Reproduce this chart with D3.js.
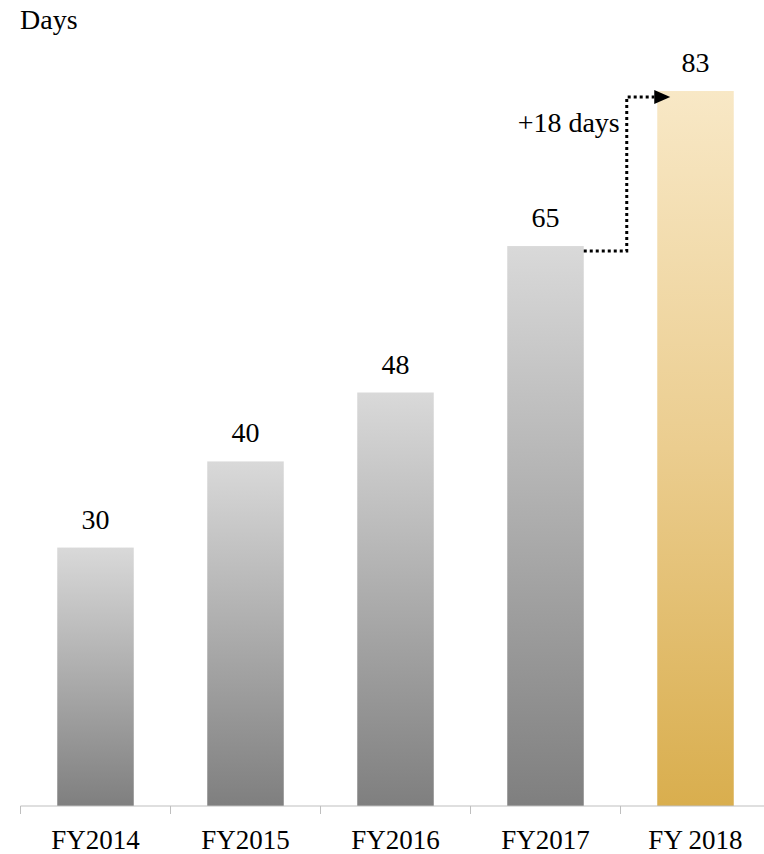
<!DOCTYPE html>
<html lang="en">
<head>
<meta charset="UTF-8">
<title>Days</title>
<script src="https://cdn.jsdelivr.net/npm/d3@7"></script>
<style>
  body { margin: 0; background: #fff; }
  text { font-family: "Liberation Serif", "DejaVu Serif", serif; fill: #000; }
</style>
</head>
<body>
<div id="chart"></div>
<script>
// data
var years = ["FY2014", "FY2015", "FY2016", "FY2017", "FY 2018"];
var days = [30, 40, 48, 65, 83];
var unitLabel = "Days";
var diffLabel = "+18 days";

var width = 764, height = 854;
var svg = d3.select("#chart").append("svg")
    .attr("width", width)
    .attr("height", height);

var baseY = 806;
var x = d3.scaleBand().domain(years).range([20.5, 770.5]).paddingInner(0.49).paddingOuter(0.245);
var y = d3.scaleLinear().domain([0, 83]).range([baseY, 91]);

// gradients
var defs = svg.append("defs");
var g1 = defs.append("linearGradient").attr("id", "grey").attr("x1", 0).attr("x2", 0).attr("y1", 0).attr("y2", 1);
g1.append("stop").attr("offset", "0%").attr("stop-color", "#d9d9d9");
g1.append("stop").attr("offset", "100%").attr("stop-color", "#7f7f7f");
var g2 = defs.append("linearGradient").attr("id", "gold").attr("x1", 0).attr("x2", 0).attr("y1", 0).attr("y2", 1);
g2.append("stop").attr("offset", "0%").attr("stop-color", "#f8e8c6");
g2.append("stop").attr("offset", "50%").attr("stop-color", "#ebcd8f");
g2.append("stop").attr("offset", "100%").attr("stop-color", "#d9ae4e");

// bars
svg.selectAll("rect.bar")
    .data(days)
    .enter().append("rect")
    .attr("class", "bar")
    .attr("x", function (d, i) { return x(years[i]); })
    .attr("width", x.bandwidth())
    .attr("y", function (d) { return y(d); })
    .attr("height", function (d) { return baseY - y(d); })
    .attr("fill", function (d, i) { return i == days.length - 1 ? "url(#gold)" : "url(#grey)"; });

// value labels
svg.selectAll("text.val")
    .data(days)
    .enter().append("text")
    .attr("class", "val")
    .attr("x", function (d, i) { return x(years[i]) + x.bandwidth() / 2; })
    .attr("y", function (d) { return y(d) - 19; })
    .attr("text-anchor", "middle")
    .style("font-size", "28px")
    .text(function (d) { return d; });

// x axis
var axis = svg.append("g").attr("transform", "translate(0," + baseY + ")");
axis.append("line").attr("x1", 20.5).attr("x2", width).attr("stroke", "#bfbfbf").attr("stroke-width", 1);
var step = x.step();
var tickXs = d3.range(years.length + 1).map(function (i) { return 20.5 + i * step; });
axis.selectAll("line.tick")
    .data(tickXs)
    .enter().append("line")
    .attr("class", "tick")
    .attr("x1", function (d) { return d; })
    .attr("x2", function (d) { return d; })
    .attr("y1", 0).attr("y2", 8)
    .attr("stroke", "#bfbfbf");
axis.selectAll("text")
    .data(years)
    .enter().append("text")
    .attr("x", function (d) { return x(d) + x.bandwidth() / 2; })
    .attr("y", 43)
    .attr("text-anchor", "middle")
    .style("font-size", "27px")
    .text(function (d) { return d; });

// unit title
svg.append("text")
    .attr("x", 20).attr("y", 29)
    .style("font-size", "28px")
    .text(unitLabel);

// +18 days connector
var i17 = 3, i18 = 4;
var xs = x(years[i17]) + x.bandwidth();
var xMid = xs + 43;
var yA = y(days[i17]) + 5;
var yB = y(days[i18]) + 6;
var xEnd = x(years[i18]) - 3;
svg.append("path")
    .attr("d", "M" + xs + "," + yA + "H" + xMid + "V" + yB + "H" + xEnd)
    .attr("fill", "none")
    .attr("stroke", "#000")
    .attr("stroke-width", 3)
    .attr("stroke-dasharray", "3,3");
svg.append("path")
    .attr("d", "M" + xEnd + "," + (yB - 7) + "L" + (xEnd + 16) + "," + yB + "L" + xEnd + "," + (yB + 7) + "Z")
    .attr("fill", "#000");
svg.append("text")
    .attr("x", xMid - 7).attr("y", yB + 35)
    .attr("text-anchor", "end")
    .style("font-size", "28px")
    .text(diffLabel);
</script>
</body>
</html>
